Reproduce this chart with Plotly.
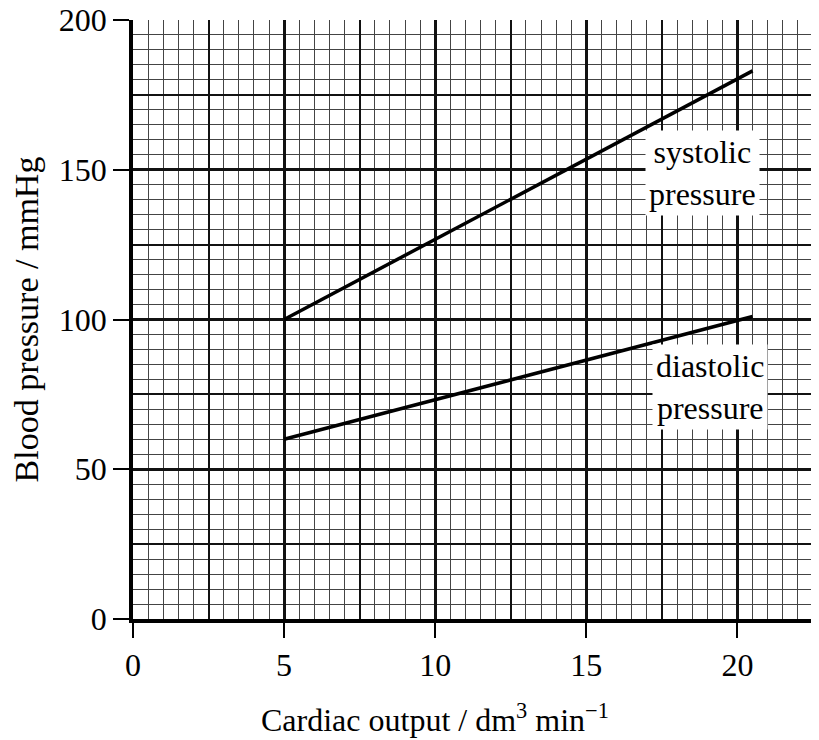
import plotly.graph_objects as go

# Data
cardiac_output = [5, 20.5]
systolic = [100, 183]
diastolic = [60, 101]
x_ticks = [0, 5, 10, 15, 20]
y_ticks = [0, 50, 100, 150, 200]

FONT = "Liberation Serif, Times New Roman, serif"

fig = go.Figure()
fig.add_trace(go.Scatter(x=cardiac_output, y=systolic, mode="lines",
                         line=dict(color="black", width=3.5), showlegend=False,
                         hoverinfo="skip"))
fig.add_trace(go.Scatter(x=cardiac_output, y=diastolic, mode="lines",
                         line=dict(color="black", width=3.5), showlegend=False,
                         hoverinfo="skip"))
# invisible trace for overlay axes (medium grid)
fig.add_trace(go.Scatter(x=[0], y=[0], xaxis="x2", yaxis="y2", mode="markers",
                         marker=dict(opacity=0), showlegend=False, hoverinfo="skip"))

grid_major = "#111111"
grid_minor = "#444444"

fig.update_layout(
    width=819, height=740,
    margin=dict(l=125, r=14, t=12, b=129),
    paper_bgcolor="white", plot_bgcolor="white",
    font=dict(family=FONT, size=32, color="black"),
    xaxis=dict(
        range=[0, 22.5], tickmode="array", tickvals=x_ticks,
        ticktext=[str(v) for v in x_ticks],
        ticks="outside", ticklen=15, tickwidth=1.5, tickcolor="black",
        showgrid=True, gridcolor=grid_major, gridwidth=2.5,
        minor=dict(dtick=0.5, showgrid=True, gridcolor=grid_minor, gridwidth=1),
        zeroline=False, showline=True, linecolor="black", linewidth=3.5,
        tickfont=dict(family=FONT, size=32), ticklabeloverflow="allow",
        automargin=False, fixedrange=True,
    ),
    yaxis=dict(
        range=[0, 200], tickmode="array", tickvals=y_ticks,
        ticktext=[str(v) for v in y_ticks],
        ticks="outside", ticklen=16, tickwidth=1.5, tickcolor="black",
        showgrid=True, gridcolor=grid_major, gridwidth=2.5,
        minor=dict(dtick=5, showgrid=True, gridcolor=grid_minor, gridwidth=1),
        zeroline=False, showline=True, linecolor="black", linewidth=3.5,
        title=dict(text="Blood pressure / mmHg",
                   font=dict(family=FONT, size=34), standoff=18),
        tickfont=dict(family=FONT, size=32), ticklabeloverflow="allow",
        automargin=False, fixedrange=True,
    ),
    xaxis2=dict(overlaying="x", range=[0, 22.5], dtick=2.5, tick0=0,
                showgrid=True, gridcolor=grid_major, gridwidth=1.6,
                showticklabels=False, ticks="", zeroline=False, showline=False,
                side="bottom", automargin=False, fixedrange=True),
    yaxis2=dict(overlaying="y", range=[0, 200], dtick=25, tick0=0,
                showgrid=True, gridcolor=grid_major, gridwidth=1.6,
                showticklabels=False, ticks="", zeroline=False, showline=False,
                side="left", automargin=False, fixedrange=True),
    annotations=[
        dict(x=10, y=-0.165, xref="x", yref="paper", yanchor="middle",
             text="Cardiac output / dm<sup>3</sup> min<sup>−1</sup>",
             showarrow=False, font=dict(family=FONT, size=32, color="black")),
        dict(x=18.85, y=149, xref="x", yref="y", text="systolic<br>pressure",
             showarrow=False, bgcolor="white", borderpad=3,
             font=dict(family=FONT, size=32, color="black"), align="center"),
        dict(x=19.1, y=77.3, xref="x", yref="y", text="diastolic<br>pressure",
             showarrow=False, bgcolor="white", borderpad=3,
             font=dict(family=FONT, size=32, color="black"), align="center"),
    ],
)

fig.write_html("out.html")
